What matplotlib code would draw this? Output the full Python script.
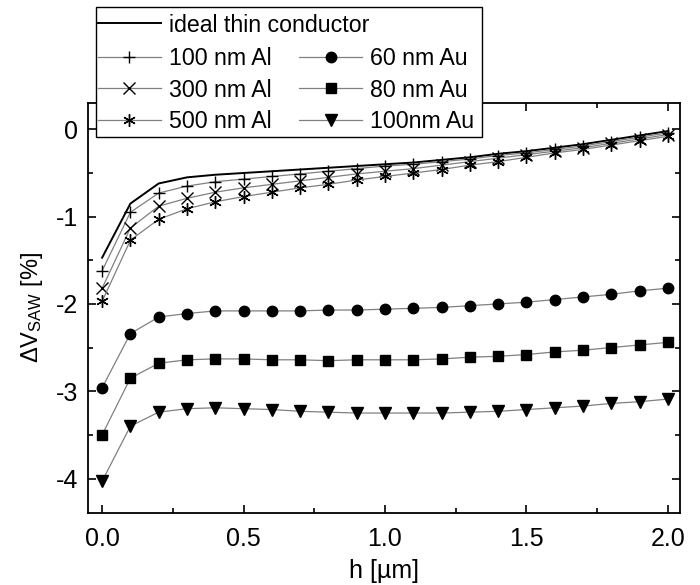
import matplotlib
matplotlib.use("Agg")
import matplotlib.pyplot as plt
from matplotlib.patches import Rectangle
from matplotlib.ticker import MultipleLocator

plt.rcParams['font.family'] = ['Liberation Sans', 'DejaVu Sans']
plt.rcParams['mathtext.fontset'] = 'custom'
plt.rcParams['mathtext.rm'] = 'Liberation Sans'
plt.rcParams['mathtext.it'] = 'Liberation Sans'
plt.rcParams['mathtext.sf'] = 'Liberation Sans'
plt.rcParams['axes.unicode_minus'] = False

# film thickness h [um]
h = [0.0, 0.1, 0.2, 0.3, 0.4, 0.5, 0.6, 0.7, 0.8, 0.9, 1.0,
     1.1, 1.2, 1.3, 1.4, 1.5, 1.6, 1.7, 1.8, 1.9, 2.0]

ideal = [-1.47, -0.85, -0.62, -0.55, -0.52, -0.50, -0.48, -0.46, -0.44, -0.42, -0.40,
         -0.38, -0.35, -0.32, -0.28, -0.25, -0.21, -0.17, -0.12, -0.07, -0.02]
al_100 = [-1.62, -0.95, -0.73, -0.65, -0.60, -0.57, -0.54, -0.51, -0.48, -0.45, -0.42,
          -0.40, -0.37, -0.34, -0.30, -0.27, -0.23, -0.19, -0.14, -0.09, -0.04]
al_300 = [-1.82, -1.13, -0.88, -0.79, -0.72, -0.67, -0.63, -0.59, -0.55, -0.51, -0.48,
          -0.45, -0.41, -0.37, -0.33, -0.29, -0.25, -0.21, -0.16, -0.11, -0.06]
al_500 = [-1.97, -1.27, -1.03, -0.91, -0.83, -0.77, -0.72, -0.67, -0.63, -0.58, -0.54,
          -0.50, -0.46, -0.41, -0.37, -0.32, -0.27, -0.23, -0.18, -0.13, -0.08]
au_60 = [-2.96, -2.34, -2.15, -2.11, -2.08, -2.08, -2.08, -2.08, -2.07, -2.07, -2.06,
         -2.05, -2.04, -2.02, -2.00, -1.98, -1.95, -1.92, -1.89, -1.85, -1.82]
au_80 = [-3.50, -2.85, -2.68, -2.64, -2.63, -2.63, -2.64, -2.64, -2.65, -2.64, -2.64,
         -2.64, -2.63, -2.61, -2.60, -2.58, -2.55, -2.53, -2.50, -2.47, -2.44]
au_100 = [-4.03, -3.40, -3.24, -3.20, -3.19, -3.20, -3.21, -3.23, -3.24, -3.25, -3.25,
          -3.25, -3.25, -3.24, -3.23, -3.21, -3.19, -3.17, -3.14, -3.12, -3.09]

fig = plt.figure(figsize=(7, 5.85), dpi=100)
ax = fig.add_axes([0.1257, 0.1231, 0.8457, 0.7013])

gray = '#808080'
asterisk = (6, 2, 0)

l_ideal, = ax.plot(h, ideal, color='black', lw=1.4)
l_al100, = ax.plot(h, al_100, color=gray, lw=0.9, marker='+', ms=9, mec='black', mew=1.0)
l_al300, = ax.plot(h, al_300, color=gray, lw=0.9, marker='x', ms=8, mec='black', mew=1.0)
l_al500, = ax.plot(h, al_500, color=gray, lw=0.9, marker=asterisk, ms=9, mec='black', mew=1.0)
l_au60, = ax.plot(h, au_60, color=gray, lw=0.9, marker='o', ms=7.5, mfc='black', mec='black')
l_au80, = ax.plot(h, au_80, color=gray, lw=0.9, marker='s', ms=7, mfc='black', mec='black')
l_au100, = ax.plot(h, au_100, color=gray, lw=0.9, marker='v', ms=8, mfc='black', mec='black')

ax.set_xlim(-0.05, 2.043)
ax.set_ylim(-4.395, 0.305)
ax.xaxis.set_major_locator(MultipleLocator(0.5))
ax.xaxis.set_minor_locator(MultipleLocator(0.25))
ax.yaxis.set_major_locator(MultipleLocator(1))
ax.yaxis.set_minor_locator(MultipleLocator(0.5))
ax.tick_params(which='both', direction='in', top=True, right=True, labelsize=18, width=1.2)
ax.tick_params(which='major', length=6)
ax.tick_params(which='minor', length=3.5)
ax.tick_params(axis='x', pad=10)
ax.tick_params(axis='y', pad=7)
for s in ax.spines.values():
    s.set_linewidth(1.3)

ax.set_xlabel('h [µm]', fontsize=18, labelpad=6)
ax.set_ylabel(r'$\Delta\mathrm{V}_{\mathrm{SAW}}$ [%]', fontsize=17, labelpad=8)

# legend box overlapping top of axes
box = Rectangle((96 / 700, 1 - 137 / 585), (482 - 96) / 700, (137 - 7) / 585,
                transform=fig.transFigure, facecolor='white', edgecolor='black',
                lw=1.0, zorder=4)
fig.patches.append(box)

leg1 = fig.legend([l_ideal], ['ideal thin conductor'], loc='center left',
                  bbox_to_anchor=(97 / 700, 1 - 25 / 585), frameon=False,
                  fontsize=16.7, handlelength=2.7, handletextpad=0.35,
                  borderaxespad=0, borderpad=0.05)
leg1.set_zorder(5)

leg2 = fig.legend([l_al100, l_al300, l_al500, l_au60, l_au80, l_au100],
                  ['100 nm Al', '300 nm Al', '500 nm Al', '60 nm Au', '80 nm Au', '100nm Au'],
                  ncol=2, loc='upper left', bbox_to_anchor=(97 / 700, 1 - 46 / 585),
                  frameon=False, fontsize=16.7, handlelength=2.7, handletextpad=0.35,
                  columnspacing=1.2, labelspacing=0.36, borderaxespad=0, borderpad=0.05)
leg2.set_zorder(5)

fig.savefig('out.png', dpi=100)
